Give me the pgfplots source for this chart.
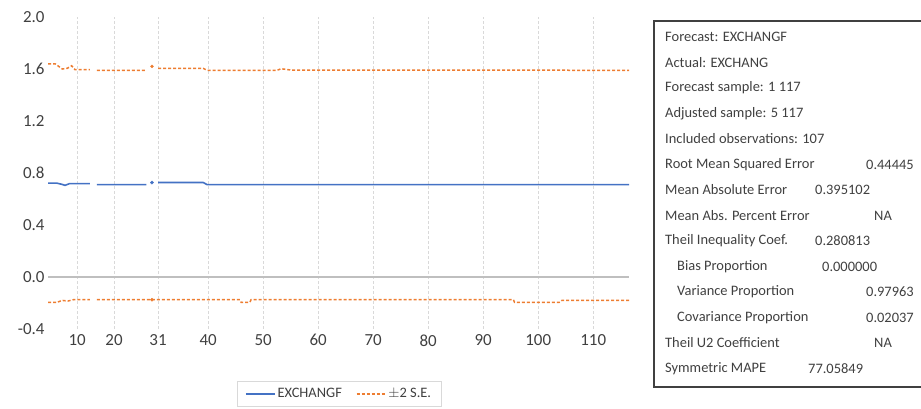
\documentclass[border=0pt]{standalone}
\usepackage{pgfplots}
\pgfplotsset{compat=1.18}
\usepackage{fontspec}
\setmainfont{Carlito}
\definecolor{exblue}{HTML}{4472C4}
\definecolor{exorange}{HTML}{ED7D31}
\definecolor{txt}{HTML}{404040}
\definecolor{gridc}{HTML}{D9D9D9}
\definecolor{zeroc}{HTML}{BFBFBF}
\begin{document}
\begin{tikzpicture}
\useasboundingbox (0bp,0bp) rectangle (921bp,409bp);
\begin{axis}[
  at={(48bp,80bp)}, anchor=south west,
  scale only axis, width=581bp, height=312bp,
  xmin=10.9, xmax=116.5, ymin=-0.4, ymax=2.0,
  axis line style={draw=none}, tick style={draw=none},
  xtick={16.2,22.9,30.9,40,50,60,70,80,90,100,110},
  xticklabels={10,20,31,40,50,60,70,80,90,100,110},
  ytick={-0.4,0,0.4,0.8,1.2,1.6,2.0},
  yticklabels={-0.4,0.0,0.4,0.8,1.2,1.6,2.0},
  xmajorgrids, ymajorgrids=false,
  major grid style={gridc, dash pattern=on 3bp off 2bp, line width=0.8bp},
  tick label style={font=\fontsize{17}{17}\selectfont, text=txt},
  xticklabel style={yshift=-2bp},
  unbounded coords=jump,
  legend columns=2,
  legend style={at={(axis description cs:0.501,-0.208)}, anchor=center,
    draw=gridc, font=\fontsize{14.5}{15}\selectfont, text=txt,
    inner xsep=8bp, inner ysep=5bp, /tikz/every even column/.append style={column sep=12bp}},
  legend image code/.code={\draw[#1] (0bp,0bp) -- (29bp,0bp);},
]
\addplot[zeroc, line width=1.3bp, forget plot] coordinates {(10.9,0) (116.5,0)};
\addplot[exblue, line width=1.6bp] coordinates {
(10.9,0.722) (12.5,0.722) (13.5,0.712) (14.0,0.705) (14.8,0.718) (18.5,0.718)
(19.1,nan)
(19.8,0.710) (28.8,0.710)
(29.3,nan)
(30.9,0.727) (39.1,0.727) (39.8,0.711) (116.5,0.711)};
\addlegendentry{EXCHANGF}
\addplot[exorange, line width=1.5bp, dash pattern=on 3bp off 2bp] coordinates {
(10.9,1.640) (12.2,1.640) (13.5,1.600) (14.4,1.605) (15.2,1.625) (15.8,1.595) (18.5,1.595)
(19.1,nan)
(19.8,1.590) (28.8,1.590)
(29.3,nan)
(30.9,1.605) (39.1,1.605) (39.8,1.590) (52.5,1.590) (53.3,1.602) (55.0,1.592) (116.5,1.590)};
\addlegendentry{$\pm$2 S.E.}
\addplot[exorange, line width=1.5bp, dash pattern=on 3bp off 2bp, forget plot] coordinates {
(10.9,-0.195) (12.5,-0.195) (13.5,-0.180) (14.5,-0.185) (15.5,-0.175) (18.5,-0.175)
(19.1,nan)
(19.8,-0.175) (28.8,-0.175) (45.8,-0.175) (46.0,-0.195) (47.6,-0.195) (47.8,-0.175)
(95.5,-0.175) (95.7,-0.195) (103.8,-0.195) (104.3,-0.180) (116.5,-0.180)};
\addplot[exblue, only marks, mark=*, mark size=1.6bp, forget plot] coordinates {(29.8,0.726)};
\addplot[exorange, only marks, mark=*, mark size=1.5bp, forget plot] coordinates {(29.8,1.620) (29.8,-0.175)};
\end{axis}
\begin{scope}[x=1bp,y=1bp]
\draw[txt, line width=1.5bp] (930,388) -- (654,388) -- (654,22) -- (930,22);
\begin{scope}[every node/.style={anchor=west, inner sep=0pt, text=txt, font=\fontsize{14.5}{14.5}\selectfont}]
\node at (665,372) {Forecast: EXCHANGF};
\node at (665,346.5) {Actual: EXCHANG};
\node at (665,321) {Forecast sample: 1 117};
\node at (665,295.5) {Adjusted sample: 5 117};
\node at (665,270) {Included observations: 107};
\node at (665,244.5) {Root Mean Squared Error};
\node at (866,244.5) {0.44445};
\node at (665,219) {Mean Absolute Error};
\node at (815,219) {0.395102};
\node at (665,193.5) {Mean Abs. Percent Error};
\node at (874,193.5) {NA};
\node at (665,168) {Theil Inequality Coef.};
\node at (815,168) {0.280813};
\node at (677,142.5) {Bias Proportion};
\node at (822,142.5) {0.000000};
\node at (677,117) {Variance Proportion};
\node at (866,117) {0.97963};
\node at (677,91.5) {Covariance Proportion};
\node at (866,91.5) {0.02037};
\node at (665,66) {Theil U2 Coefficient};
\node at (874,66) {NA};
\node at (665,40.5) {Symmetric MAPE};
\node at (808,40.5) {77.05849};
\end{scope}
\end{scope}
\end{tikzpicture}
\end{document}
